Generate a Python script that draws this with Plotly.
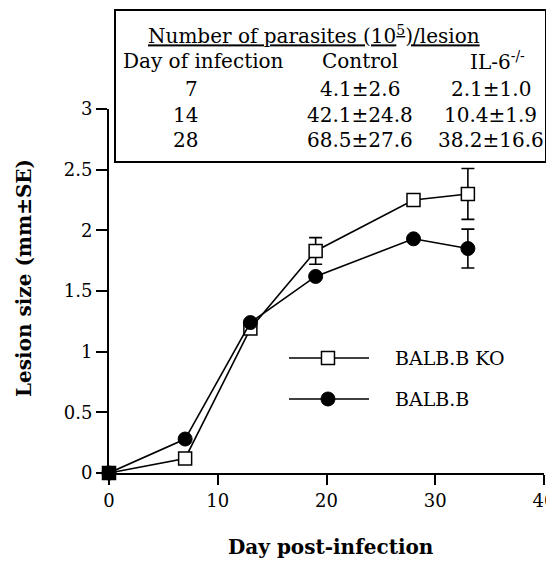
import plotly.graph_objects as go

# ---- data ----
days_ko = [0, 7, 13, 19, 28, 33]
lesion_ko = [0.0, 0.12, 1.19, 1.83, 2.25, 2.30]
err_ko = [0, 0, 0, 0.11, 0, 0.21]

days_wt = [0, 7, 13, 19, 28, 33]
lesion_wt = [0.0, 0.28, 1.24, 1.62, 1.93, 1.85]
err_wt = [0, 0, 0, 0, 0, 0.16]

series_names = ["BALB.B KO", "BALB.B"]

x_ticks = [0, 10, 20, 30, 40]
y_ticks = [0, 0.5, 1, 1.5, 2, 2.5, 3]
y_tick_labels = ["0", "0.5", "1", "1.5", "2", "2.5", "3"]

table_title = "Number of parasites (10<sup>5</sup>)/lesion"
table_headers = ["Day of infection", "Control", "IL-6<sup>-/-</sup>"]
table_days = [7, 14, 28]
control_mean = [4.1, 42.1, 68.5]
control_se = [2.6, 24.8, 27.6]
il6_mean = [2.1, 10.4, 38.2]
il6_se = [1.0, 1.9, 16.6]

FONT = "DejaVu Serif"

fig = go.Figure()

fig.add_trace(go.Scatter(
    x=days_ko, y=lesion_ko, mode="lines+markers", name=series_names[0],
    line=dict(color="black", width=1.6),
    marker=dict(symbol="square", size=13,
                color=["black"] + ["white"] * (len(days_ko) - 1),
                line=dict(color="black", width=1.5)),
    error_y=dict(type="data", array=err_ko, visible=True, color="black",
                 thickness=1.6, width=6.5),
    cliponaxis=False, showlegend=False,
))
fig.add_trace(go.Scatter(
    x=days_wt, y=lesion_wt, mode="lines+markers", name=series_names[1],
    line=dict(color="black", width=1.6),
    marker=dict(symbol="circle", size=14, color="black",
                line=dict(color="black", width=1)),
    error_y=dict(type="data", array=err_wt, visible=True, color="black",
                 thickness=1.6, width=6.5),
    cliponaxis=False, showlegend=False,
))

shapes = []
annotations = []

# inset table box
shapes.append(dict(type="rect", xref="paper", yref="paper",
                   x0=0.0138, x1=1.0046, y0=0.8544, y1=1.272,
                   line=dict(color="black", width=2), fillcolor="white",
                   layer="above"))

tf = dict(family=FONT, size=20, color="black")
annotations.append(dict(xref="paper", yref="paper", x=0.4713, y=1.2033,
                        text=table_title, showarrow=False,
                        font=dict(family=FONT, size=20, color="black", lineposition="under"),
                        xanchor="center", yanchor="middle"))
annotations.append(dict(xref="paper", yref="paper", x=0.0276, y=1.1319,
                        text=table_headers[0], showarrow=False, font=tf,
                        xanchor="left", yanchor="middle"))
annotations.append(dict(xref="paper", yref="paper", x=0.577, y=1.1319,
                        text=table_headers[1], showarrow=False, font=tf,
                        xanchor="center", yanchor="middle"))
annotations.append(dict(xref="paper", yref="paper", x=0.892, y=1.1319,
                        text=table_headers[2], showarrow=False, font=tf,
                        xanchor="center", yanchor="middle"))
row_y = [1.0549, 0.9835, 0.9148]
for i, d in enumerate(table_days):
    annotations.append(dict(xref="paper", yref="paper", x=0.2092, y=row_y[i],
                            text=str(d), showarrow=False, font=tf,
                            xanchor="right", yanchor="middle"))
    annotations.append(dict(xref="paper", yref="paper", x=0.577, y=row_y[i],
                            text=f"{control_mean[i]:.1f}±{control_se[i]:.1f}",
                            showarrow=False, font=tf,
                            xanchor="center", yanchor="middle"))
    annotations.append(dict(xref="paper", yref="paper", x=0.878, y=row_y[i],
                            text=f"{il6_mean[i]:.1f}±{il6_se[i]:.1f}",
                            showarrow=False, font=tf,
                            xanchor="center", yanchor="middle"))

# custom legend
lf = dict(family=FONT, size=19, color="black")
leg_rows = [0.3159, 0.2033]
for i, name in enumerate(series_names):
    yy = leg_rows[i]
    shapes.append(dict(type="line", xref="paper", yref="paper",
                       x0=0.4138, x1=0.5977, y0=yy, y1=yy,
                       line=dict(color="black", width=1.6)))
    cx = 0.5034
    if i == 0:
        hw = 6.5 / 435
        hh = 6.5 / 364
        shapes.append(dict(type="rect", xref="paper", yref="paper",
                           x0=cx - hw, x1=cx + hw, y0=yy - hh, y1=yy + hh,
                           line=dict(color="black", width=1.5), fillcolor="white"))
    else:
        hw = 7 / 435
        hh = 7 / 364
        shapes.append(dict(type="circle", xref="paper", yref="paper",
                           x0=cx - hw, x1=cx + hw, y0=yy - hh, y1=yy + hh,
                           line=dict(color="black", width=1), fillcolor="black"))
    annotations.append(dict(xref="paper", yref="paper", x=0.6529, y=yy,
                            text=name, showarrow=False, font=lf,
                            xanchor="left", yanchor="middle"))

# axis titles
annotations.append(dict(xref="paper", yref="paper", x=-0.1954, y=0.5357,
                        text="<b>Lesion size (mm±SE)</b>", textangle=-90,
                        showarrow=False,
                        font=dict(family=FONT, size=20, color="black"),
                        xanchor="center", yanchor="middle"))
annotations.append(dict(xref="paper", yref="paper", x=0.5103, y=-0.2033,
                        text="<b>Day post-infection</b>", showarrow=False,
                        font=dict(family=FONT, size=20, color="black"),
                        xanchor="center", yanchor="middle"))

fig.update_layout(
    width=546, height=554,
    margin=dict(l=101, r=10, t=101, b=89, autoexpand=False),
    paper_bgcolor="white", plot_bgcolor="white",
    font=dict(family=FONT, size=18, color="black"),
    shapes=shapes, annotations=annotations,
    xaxis=dict(range=[0, 40], tickvals=x_ticks, ticks="outside", ticklen=10,
               tickwidth=2, tickcolor="black", showline=True, linewidth=2,
               linecolor="black", showgrid=False, zeroline=False,
               tickfont=dict(family=FONT, size=18), fixedrange=True,
               ticklabeloverflow="allow", automargin=False),
    yaxis=dict(range=[0, 3], tickvals=y_ticks, ticktext=y_tick_labels,
               ticks="outside", ticklen=11, tickwidth=2, tickcolor="black",
               showline=True, linewidth=2, linecolor="black", showgrid=False,
               zeroline=False, tickfont=dict(family=FONT, size=18),
               fixedrange=True, automargin=False),
)

fig.write_html("out.html")
